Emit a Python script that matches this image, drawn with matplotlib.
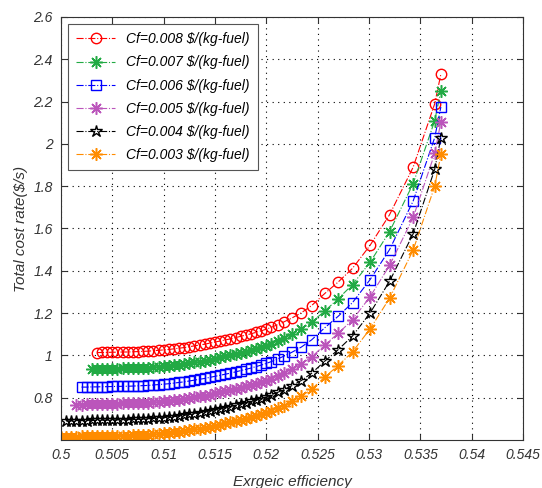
import matplotlib
matplotlib.use("Agg")
import matplotlib.pyplot as plt

plt.rcParams['font.family'] = ['Liberation Sans', 'DejaVu Sans']

# exergy efficiency values (shared by all runs, lower-Cf runs reach further left)
eff = [0.5000, 0.5005, 0.5010, 0.5015, 0.5020, 0.5025, 0.5030, 0.5035, 0.5040, 0.5045,
       0.5050, 0.5055, 0.5060, 0.5065, 0.5070, 0.5075, 0.5080, 0.5085, 0.5090, 0.5095,
       0.5100, 0.5105, 0.5110, 0.5115, 0.5120, 0.5125, 0.5130, 0.5135, 0.5140, 0.5145,
       0.5150, 0.5155, 0.5160, 0.5165, 0.5170, 0.5175, 0.5180, 0.5185, 0.5190, 0.5195,
       0.5200, 0.5205, 0.5211, 0.5217, 0.5225, 0.5234, 0.5244, 0.5257, 0.5270, 0.5284,
       0.5301, 0.5320, 0.5343, 0.5364, 0.5370]

cost_008 = [1.013, 1.014, 1.014, 1.015, 1.015, 1.016, 1.016, 1.017, 1.018, 1.019,
            1.020, 1.022, 1.024, 1.026, 1.028, 1.031, 1.034, 1.037, 1.041, 1.045,
            1.049, 1.053, 1.058, 1.063, 1.068, 1.073, 1.078, 1.084, 1.090, 1.096,
            1.102, 1.109, 1.116, 1.124, 1.133, 1.145, 1.158, 1.177, 1.201, 1.235,
            1.293, 1.347, 1.412, 1.520, 1.665, 1.890, 2.190, 2.330]

cost_007 = [0.935, 0.935, 0.936, 0.936, 0.937, 0.937, 0.938, 0.938, 0.939, 0.940,
            0.941, 0.942, 0.944, 0.946, 0.948, 0.950, 0.953, 0.956, 0.959, 0.963,
            0.967, 0.971, 0.975, 0.980, 0.985, 0.990, 0.995, 1.000, 1.006, 1.012,
            1.018, 1.024, 1.031, 1.038, 1.046, 1.055, 1.067, 1.080, 1.099, 1.123,
            1.157, 1.210, 1.268, 1.335, 1.440, 1.585, 1.812, 2.110, 2.252]

cost_006 = [0.850, 0.850, 0.851, 0.851, 0.852, 0.852, 0.853, 0.853, 0.854, 0.854,
            0.855, 0.856, 0.857, 0.858, 0.860, 0.862, 0.864, 0.866, 0.869, 0.872,
            0.875, 0.879, 0.883, 0.887, 0.891, 0.896, 0.901, 0.906, 0.911, 0.916,
            0.922, 0.928, 0.934, 0.940, 0.947, 0.954, 0.962, 0.971, 0.983, 0.996,
            1.015, 1.039, 1.073, 1.131, 1.185, 1.250, 1.358, 1.500, 1.730, 2.030,
            2.175]

cost_005 = [0.765, 0.767, 0.769, 0.770, 0.770, 0.771, 0.771, 0.772, 0.772, 0.773,
            0.773, 0.774, 0.775, 0.776, 0.777, 0.779, 0.781, 0.783, 0.785, 0.788,
            0.791, 0.794, 0.798, 0.802, 0.806, 0.810, 0.815, 0.820, 0.825, 0.830,
            0.835, 0.841, 0.847, 0.853, 0.859, 0.866, 0.873, 0.881, 0.890, 0.902,
            0.915, 0.934, 0.958, 0.992, 1.050, 1.104, 1.169, 1.277, 1.425, 1.652,
            1.955, 2.105]

cost_004 = [0.690, 0.691, 0.691, 0.692, 0.692, 0.693, 0.693, 0.694, 0.694, 0.695,
            0.695, 0.696, 0.696, 0.697, 0.698, 0.699, 0.700, 0.702, 0.704, 0.706,
            0.708, 0.711, 0.714, 0.717, 0.721, 0.725, 0.729, 0.733, 0.738, 0.743,
            0.748, 0.753, 0.758, 0.764, 0.770, 0.776, 0.782, 0.789, 0.796, 0.804,
            0.813, 0.825, 0.838, 0.857, 0.881, 0.915, 0.973, 1.027, 1.092, 1.200,
            1.350, 1.575, 1.880, 2.030]

cost_003 = [0.615, 0.615, 0.616, 0.616, 0.617, 0.617, 0.618, 0.618, 0.619, 0.619,
            0.620, 0.620, 0.621, 0.621, 0.622, 0.623, 0.624, 0.625, 0.627, 0.629,
            0.631, 0.633, 0.636, 0.639, 0.642, 0.646, 0.650, 0.654, 0.658, 0.663,
            0.668, 0.673, 0.678, 0.683, 0.689, 0.695, 0.701, 0.707, 0.714, 0.721,
            0.729, 0.738, 0.750, 0.763, 0.782, 0.806, 0.840, 0.898, 0.952, 1.017,
            1.125, 1.270, 1.498, 1.800, 1.950]

labels = ['Cf=0.008 $/(kg-fuel)', 'Cf=0.007 $/(kg-fuel)', 'Cf=0.006 $/(kg-fuel)',
          'Cf=0.005 $/(kg-fuel)', 'Cf=0.004 $/(kg-fuel)', 'Cf=0.003 $/(kg-fuel)']

series = [cost_008, cost_007, cost_006, cost_005, cost_004, cost_003]
colors = ['#ff0000', '#22aa44', '#0000ff', '#bb55bb', '#000000', '#ff8c00']
markers = ['o', (8, 2, 0), 's', (8, 2, 0), '*', (8, 2, 0)]

fig = plt.figure(figsize=(5.42, 4.88), dpi=100)
ax = fig.add_axes([0.1125, 0.0984, 0.8525, 0.8668])

for y, lab, c, m in zip(series, labels, colors, markers):
    x = eff[-len(y):]
    if m == '*':
        ax.plot(x, y, linestyle='-.', color=c, lw=0.8, marker=m, ms=9,
                mfc='none', mec=c, mew=1.0, label=lab)
    elif m in ('o', 's'):
        ax.plot(x, y, linestyle='-.', color=c, lw=0.8, marker=m, ms=7.5,
                mfc='none', mec=c, mew=1.0, label=lab)
    else:
        ax.plot(x, y, linestyle='-.', color=c, lw=0.8, marker=m, ms=9,
                mec=c, mew=1.1, label=lab)

ax.set_xlim(0.5, 0.545)
ax.set_ylim(0.6, 2.6)
ax.set_xticks([0.5, 0.505, 0.51, 0.515, 0.52, 0.525, 0.53, 0.535, 0.54, 0.545])
ax.set_xticklabels(['0.5', '0.505', '0.51', '0.515', '0.52', '0.525', '0.53',
                    '0.535', '0.54', '0.545'])
ax.set_yticks([0.8, 1.0, 1.2, 1.4, 1.6, 1.8, 2.0, 2.2, 2.4, 2.6])
ax.set_yticklabels(['0.8', '1', '1.2', '1.4', '1.6', '1.8', '2', '2.2', '2.4', '2.6'])

ax.grid(True, color='black', linestyle=(0, (1, 4)), linewidth=0.8)
ax.tick_params(direction='in', top=True, right=True, length=4, labelsize=10,
               colors='#333333', pad=6)
for t in ax.get_xticklabels() + ax.get_yticklabels():
    t.set_fontstyle('italic')
for s in ax.spines.values():
    s.set_color('#333333')

ax.set_xlabel('Exrgeic efficiency', fontsize=11, style='italic', color='#333333',
              labelpad=9)
ax.set_ylabel('Total cost rate($/s)', fontsize=11, style='italic', color='#333333',
              labelpad=4)

leg = ax.legend(loc='upper left', handlelength=2.8, borderpad=0.6,
                labelspacing=0.66, fancybox=False, framealpha=1,
                prop={'style': 'italic', 'size': 10})
leg.get_frame().set_edgecolor('#555555')
leg.get_frame().set_linewidth(0.8)

fig.savefig('out.png', dpi=100)
